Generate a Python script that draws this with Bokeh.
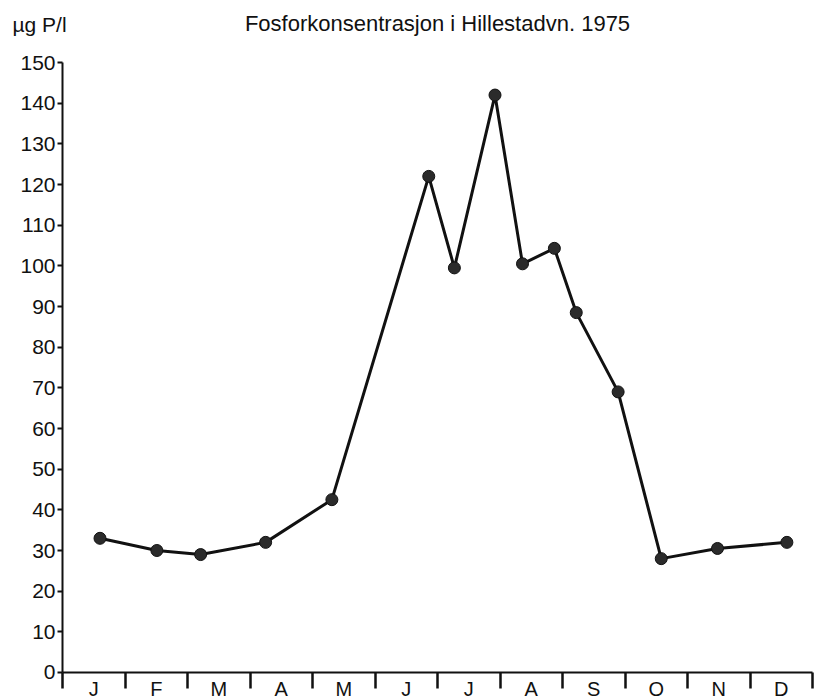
from bokeh.plotting import figure
from bokeh.models import Range1d, FixedTicker, LinearAxis, Label, LabelSet, ColumnDataSource
from bokeh.core.properties import value
from bokeh.embed import file_html
from bokeh.resources import INLINE

# Sampling dates as fractional month (0 = 1 Jan, 12 = 31 Dec)
sample_month = [0.60, 1.51, 2.21, 3.25, 4.31, 5.86, 6.27, 6.92, 7.36, 7.87, 8.22, 8.89, 9.58, 10.48, 11.59]
# Phosphorus concentration, µg P/l
phosphorus = [33, 30, 29, 32, 42.5, 122, 99.5, 142, 100.5, 104.3, 88.5, 69, 28, 30.5, 32]

month_labels = ["J", "F", "M", "A", "M", "J", "J", "A", "S", "O", "N", "D"]
month_centers = [i + 0.5 for i in range(12)]
month_bounds = list(range(13))
y_ticks = list(range(0, 151, 10))

title_text = "Fosforkonsentrasjon i Hillestadvn. 1975"
unit_text = "µg P/l"

FONT = "Liberation Sans"
INK = "#111111"

p = figure(width=814, height=699,
           x_range=Range1d(-0.992, 12.032), y_range=Range1d(-6.64, 165.25),
           output_backend="svg", toolbar_location=None,
           x_axis_type=None, y_axis_type=None, min_border=0)
p.outline_line_color = None
p.background_fill_color = "white"
p.border_fill_color = "white"

yaxis = LinearAxis(ticker=FixedTicker(ticks=y_ticks), fixed_location=0, bounds=(0, 150),
                   axis_line_width=2, axis_line_color=INK,
                   major_tick_in=0, major_tick_out=5, major_tick_line_width=2,
                   major_tick_line_color=INK, minor_tick_line_color=None,
                   major_label_standoff=2,
                   major_label_text_font=FONT, major_label_text_font_size="21px",
                   major_label_text_color=INK)
p.add_layout(yaxis, "left")

xaxis = LinearAxis(ticker=FixedTicker(ticks=[], minor_ticks=month_bounds), fixed_location=0,
                   bounds=(0, 12),
                   axis_line_width=2, axis_line_color=INK,
                   major_tick_line_color=None,
                   minor_tick_in=0, minor_tick_out=16, minor_tick_line_width=2.5,
                   minor_tick_line_color=INK)
p.add_layout(xaxis, "below")

src = ColumnDataSource(dict(x=sample_month, y=phosphorus))
p.line("x", "y", source=src, line_color=INK, line_width=3)
p.scatter("x", "y", source=src, size=12, fill_color="#2b2b2b", line_color=INK, line_width=1)

msrc = ColumnDataSource(dict(x=month_centers, y=[-4.1] * 12, text=month_labels))
p.add_layout(LabelSet(x="x", y="y", text="text", source=msrc,
                      text_align="center", text_baseline="middle",
                      text_font=value(FONT), text_font_size=value("20px"),
                      text_color=INK))

p.add_layout(Label(x=6, y=159.5, text=title_text, text_align="center", text_baseline="middle",
                   text_font=FONT, text_font_size="22px", text_color=INK))
p.add_layout(Label(x=-0.8, y=159.3, text=unit_text, text_align="left", text_baseline="middle",
                   text_font=FONT, text_font_size="21px", text_color=INK))

open("out.html", "w").write(file_html(p, INLINE))
